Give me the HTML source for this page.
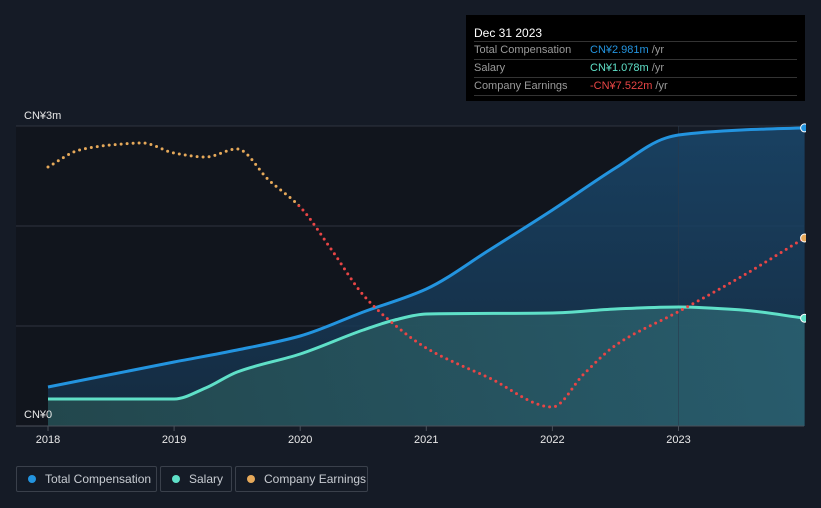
<!DOCTYPE html>
<html><head><meta charset="utf-8"><style>
html,body{margin:0;padding:0;background:#151b26;width:821px;height:508px;overflow:hidden;font-family:"Liberation Sans",sans-serif}
svg{display:block;position:absolute;left:0;top:0}
.tt{position:absolute;left:466px;top:15px;width:339px;height:86px;background:#000;color:#fff;font-size:11px}
.tt .h{position:absolute;left:8px;top:11px;font-size:12px}
.tt .r{position:absolute;left:8px;width:323px;height:17px;border-top:1px solid #333;color:#9a9a9a;line-height:17px;white-space:nowrap}
.tt .r span{position:absolute;left:116px}
.lg{position:absolute;top:466px;height:26px;border:1px solid #3a404b;border-radius:2px;color:#c8ccd2;font-size:12px;line-height:24px;box-sizing:border-box;white-space:nowrap}
.lg i{position:absolute;left:11px;top:8px;width:8px;height:8px;border-radius:50%}
.lg span{position:absolute;left:28px;top:0}
</style></head><body>
<svg id="c" width="821" height="508"></svg>
<div class="tt">
<div class="h">Dec 31 2023</div>
<div class="r" style="top:26px">Total Compensation<span><b style="font-weight:normal;color:#2394df">CN¥2.981m</b> /yr</span></div>
<div class="r" style="top:44px">Salary<span><b style="font-weight:normal;color:#5fe0c8">CN¥1.078m</b> /yr</span></div>
<div class="r" style="top:62px;border-bottom:1px solid #333">Company Earnings<span><b style="font-weight:normal;color:#e84545">-CN¥7.522m</b> /yr</span></div>
</div>
<div class="lg" style="left:16px;width:141px"><i style="background:#2394df"></i><span>Total Compensation</span></div>
<div class="lg" style="left:160px;width:72px"><i style="background:#5fe0c8"></i><span>Salary</span></div>
<div class="lg" style="left:235px;width:133px"><i style="background:#e6a95a"></i><span>Company Earnings</span></div>
<script>
const years=[2018,2019,2020,2021,2022,2023];
const yTicks=[0,1,2,3];
const totalT=[2018,2019,2019.5,2020,2020.5,2021,2021.5,2022,2022.5,2022.9,2023,2023.5,2024];
const totalV=[0.39,0.64,0.76,0.90,1.14,1.37,1.76,2.16,2.58,2.88,2.91,2.96,2.981];
const salT=[2018,2019,2019.25,2019.5,2020,2020.5,2020.75,2021,2022,2022.5,2023,2023.5,2024];
const salV=[0.27,0.27,0.38,0.54,0.72,0.96,1.06,1.12,1.13,1.17,1.19,1.16,1.078];
const earnT=[2018,2018.25,2018.5,2018.75,2019,2019.25,2019.5,2019.75,2020,2020.25,2020.5,2020.75,2021,2021.5,2022,2022.25,2022.5,2023,2023.5,2024];
const earnV=[8.66,12.54,13.68,14.13,11.85,10.94,12.77,5.70,-0.46,-10.26,-20.51,-27.35,-32.60,-39.43,-46.04,-38.5,-32.0,-24.3,-16.3,-7.522];
const X=t=>48+(t-2018)*126.1;
const Y=v=>426-v*100;
const YE=v=>205-v*4.387;
const NS='http://www.w3.org/2000/svg';
const svg=document.getElementById('c');
function mk(tag,a,p){const e=document.createElementNS(NS,tag);for(const k in a)e.setAttribute(k,a[k]);(p||svg).appendChild(e);return e;}
function path(pts){const n=pts.length,dx=[],m=[],t=[];
for(let i=0;i<n-1;i++){dx[i]=pts[i+1][0]-pts[i][0];m[i]=(pts[i+1][1]-pts[i][1])/dx[i];}
t[0]=m[0];t[n-1]=m[n-2];
for(let i=1;i<n-1;i++){if(m[i-1]*m[i]<=0)t[i]=0;else{const w1=2*dx[i]+dx[i-1],w2=dx[i]+2*dx[i-1];t[i]=(w1+w2)/(w1/m[i-1]+w2/m[i]);}}
let d='M'+pts[0][0]+','+pts[0][1];
for(let i=0;i<n-1;i++){const h=dx[i]/3;d+=' C'+(pts[i][0]+h)+','+(pts[i][1]+t[i]*h)+' '+(pts[i+1][0]-h)+','+(pts[i+1][1]-t[i+1]*h)+' '+pts[i+1][0]+','+pts[i+1][1];}
return d;}
const defs=mk('defs',{});
defs.innerHTML='<linearGradient id="gb" x1="0" y1="0" x2="0" y2="1"><stop offset="0" stop-color="#1a4a70" stop-opacity="0.8"/><stop offset="1" stop-color="#153049" stop-opacity="0.8"/></linearGradient><linearGradient id="gs" x1="0" y1="0" x2="1" y2="0"><stop offset="0" stop-color="#244a4e"/><stop offset="1" stop-color="#2a6070"/></linearGradient><clipPath id="cu"><rect x="0" y="0" width="821" height="205"/></clipPath><clipPath id="cd"><rect x="0" y="205" width="821" height="300"/></clipPath>';
const bg=mk('rect',{x:16,y:126,width:663,height:300,fill:'#11151d'});

yTicks.forEach(v=>{const l=mk('line',{x1:16,x2:804,y1:Y(v),y2:Y(v),stroke:'#2e3440','stroke-width':1});
});
const tp=totalT.map((t,i)=>[X(t),Y(totalV[i])]);
const sp=salT.map((t,i)=>[X(t),Y(salV[i])]);
const ep=earnT.map((t,i)=>[X(t),YE(earnV[i])]);
const ta=mk('path',{d:path(tp)+' L'+X(2024)+',426 L48,426 Z',fill:'url(#gb)'});

const sa=mk('path',{d:path(sp)+' L'+X(2024)+',426 L48,426 Z',fill:'url(#gs)','fill-opacity':0.9});

const hl=mk('line',{x1:X(2023),x2:X(2023),y1:126,y2:426,stroke:'#2a3a4c','stroke-width':1,'stroke-opacity':0.6});

const tl=mk('path',{d:path(tp),fill:'none',stroke:'#2394df','stroke-width':3});

const sl=mk('path',{d:path(sp),fill:'none',stroke:'#5fe0c8','stroke-width':3});

const eu=mk('path',{d:path(ep),fill:'none',stroke:'#e6a95a','stroke-width':3,'stroke-dasharray':'0 6','stroke-linecap':'round','clip-path':'url(#cu)'});

const ed=mk('path',{d:path(ep),fill:'none',stroke:'#e84545','stroke-width':3,'stroke-dasharray':'0 6','stroke-linecap':'round','clip-path':'url(#cd)'});

[[tp,'#2394df','total-end-dot'],[sp,'#5fe0c8','salary-end-dot'],[ep,'#e6a95a','earnings-end-dot']].forEach(([p,c,n])=>{const q=p[p.length-1];
const d=mk('circle',{cx:q[0],cy:q[1],r:4,fill:c,stroke:'#fff','stroke-width':1});
});
const ax=mk('line',{x1:16,x2:804,y1:426,y2:426,stroke:'#4a505a','stroke-width':1});

years.forEach(y=>{mk('line',{x1:X(y),x2:X(y),y1:426,y2:431,stroke:'#4a505a'});
const t=mk('text',{x:X(y),y:443,fill:'#e8e8e8','font-size':11,'text-anchor':'middle'});t.textContent=y;
});
[[3,'CN¥3m',119],[0,'CN¥0',418]].forEach(([v,s,yy])=>{const t=mk('text',{x:24,y:yy,fill:'#e8e8e8','font-size':11});t.textContent=s;
});
const rb=mk('rect',{x:806,y:0,width:15,height:460,fill:'#151b26'});
</script>
</body></html>
